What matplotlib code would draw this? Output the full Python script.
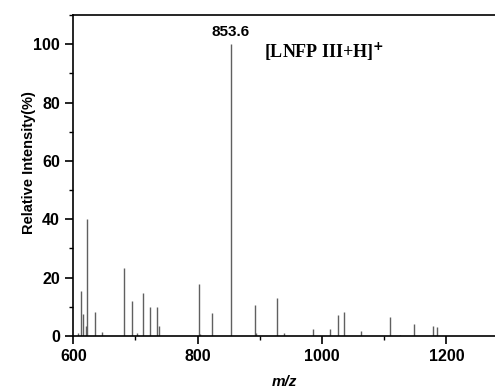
import matplotlib.pyplot as plt
from matplotlib.ticker import MultipleLocator

# пики масс-спектра: m/z и относительная интенсивность (%)
mz = [607, 612, 616, 620.5, 622, 635, 647, 682, 695, 703, 712, 724, 735, 738,
      802, 803.5, 823, 853.6, 892, 894, 928, 939, 985, 1012, 1026, 1034.5,
      1063, 1109, 1126, 1148, 1178, 1184]
intensity = [1, 15.4, 7.5, 3.5, 40.2, 8.3, 1.4, 23.4, 11.9, 1, 14.6, 10, 10, 3.5,
             17.7, 0.8, 8, 100, 10.5, 1, 13, 1, 2.3, 2.3, 7.3, 8.2,
             1.8, 6.4, 0.5, 4.1, 3.3, 3]
main_label = '853.6'
ion_label = r'[LNFP III+H]$^{+}$'

plt.rcParams['font.family'] = 'Liberation Sans'
plt.rcParams['font.weight'] = 'bold'

fig = plt.figure(figsize=(4.95, 3.91), dpi=100)
ax = fig.add_axes([0.148, 0.1407, 0.852, 0.821])

ax.vlines(mz, 0, intensity, color='#606060', lw=1.0)

ax.set_xlim(600, 1278)
ax.set_ylim(0, 110)
ax.xaxis.set_major_locator(MultipleLocator(200))
ax.xaxis.set_minor_locator(MultipleLocator(100))
ax.yaxis.set_major_locator(MultipleLocator(20))
ax.yaxis.set_minor_locator(MultipleLocator(10))
ax.tick_params(which='major', direction='out', length=6, width=1.2, labelsize=11.5)
ax.tick_params(which='minor', direction='out', length=3, width=1.0)
ax.spines['right'].set_visible(False)
for s in ['left', 'bottom', 'top']:
    ax.spines[s].set_linewidth(1.2)

ax.set_ylabel('Relative Intensity(%)', fontsize=10.5, fontweight='bold')
ax.yaxis.set_label_coords(-0.088, 0.54)
ax.set_xlabel('m/z', fontsize=11, fontweight='bold', style='italic', labelpad=8)

ax.text(853.6, 104, main_label, ha='center', va='center', fontsize=11, fontweight='bold')
ax.text(906, 97.4, ion_label, ha='left', va='center', fontsize=13, fontweight='bold',
        family='Liberation Serif')

fig.savefig('out.png', dpi=100)
